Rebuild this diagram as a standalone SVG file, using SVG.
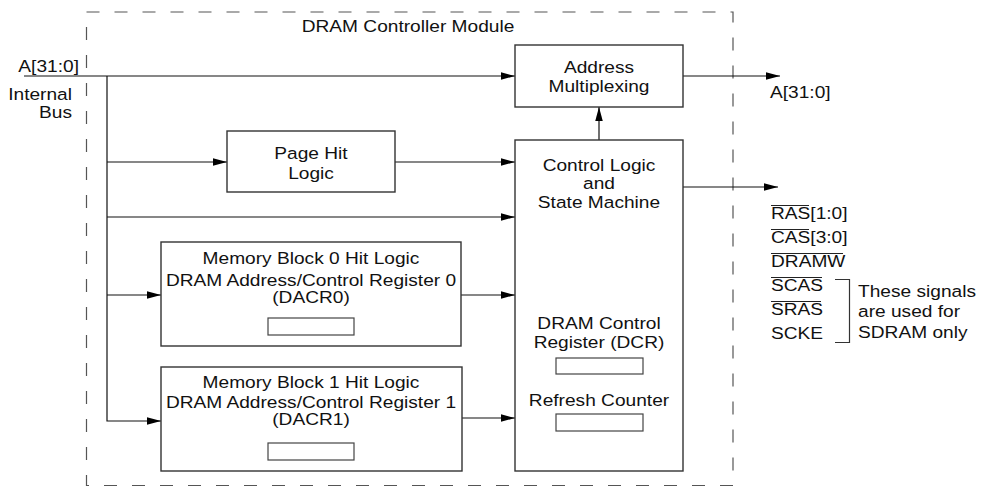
<svg xmlns="http://www.w3.org/2000/svg" width="984" height="487" viewBox="0 0 984 487">
<style>
.t{font-family:"Liberation Sans",Arial,Helvetica,sans-serif;font-size:16.5px;fill:#111}
.m{text-anchor:middle}
.e{text-anchor:end}
.box{fill:#fff;stroke:#333;stroke-width:1.4}
.reg{fill:#fff;stroke:#444;stroke-width:1.2}
.ln{fill:none;stroke:#111;stroke-width:1.2}
.ol{stroke:#222;stroke-width:1}
</style>
<defs>
<marker id="ah" markerUnits="userSpaceOnUse" markerWidth="14" markerHeight="8" refX="14" refY="3.75" orient="auto">
<path d="M0,0 L14,3.75 L0,7.5 z" fill="#000"/>
</marker>
</defs>
<rect id="module" x="86.5" y="12" width="646.5" height="473.5" fill="none" stroke="#555" stroke-width="1.2" stroke-dasharray="13 15"/>
<text class="t m" transform="translate(408 32) scale(1.16 1)">DRAM Controller Module</text>

<g id="connectors">
<line class="ln" x1="24" y1="76" x2="515" y2="76" marker-end="url(#ah)"/>
<polyline class="ln" points="107,76 107,421 161,421" marker-end="url(#ah)"/>
<line class="ln" x1="107" y1="162" x2="227" y2="162" marker-end="url(#ah)"/>
<line class="ln" x1="395" y1="162" x2="515" y2="162" marker-end="url(#ah)"/>
<line class="ln" x1="107" y1="217" x2="515" y2="217" marker-end="url(#ah)"/>
<line class="ln" x1="107" y1="295" x2="161" y2="295" marker-end="url(#ah)"/>
<line class="ln" x1="461" y1="295" x2="515" y2="295" marker-end="url(#ah)"/>
<line class="ln" x1="462" y1="418" x2="515" y2="418" marker-end="url(#ah)"/>
<line class="ln" x1="599" y1="140" x2="599" y2="107" marker-end="url(#ah)"/>
<line class="ln" x1="683" y1="76" x2="780" y2="76" marker-end="url(#ah)"/>
<line class="ln" x1="683" y1="187" x2="778" y2="187" marker-end="url(#ah)"/>
</g>

<g id="bus-in">
<text class="t e" transform="translate(79 72) scale(1.16 1)">A[31:0]</text>
<text class="t e" transform="translate(72 100) scale(1.16 1)">Internal</text>
<text class="t e" transform="translate(72 118) scale(1.16 1)">Bus</text>
</g>

<g id="addr-mux">
<rect class="box" x="515" y="45" width="168" height="62"/>
<text class="t m" transform="translate(599 73) scale(1.16 1)">Address</text>
<text class="t m" transform="translate(599 92) scale(1.16 1)">Multiplexing</text>
</g>

<g id="bus-out">
<text class="t" transform="translate(770 98) scale(1.16 1)">A[31:0]</text>
</g>

<g id="page-hit">
<rect class="box" x="227" y="131" width="168" height="61"/>
<text class="t m" transform="translate(311 159) scale(1.16 1)">Page Hit</text>
<text class="t m" transform="translate(311 179) scale(1.16 1)">Logic</text>
</g>

<g id="mem-block-0">
<rect class="box" x="161" y="242" width="300" height="104"/>
<text class="t m" transform="translate(311 264) scale(1.16 1)">Memory Block 0 Hit Logic</text>
<text class="t m" transform="translate(311 286) scale(1.16 1)">DRAM Address/Control Register 0</text>
<text class="t m" transform="translate(311 303) scale(1.16 1)">(DACR0)</text>
<rect class="reg" x="268" y="318" width="86" height="17"/>
</g>

<g id="mem-block-1">
<rect class="box" x="161" y="367" width="301" height="104"/>
<text class="t m" transform="translate(311 388) scale(1.16 1)">Memory Block 1 Hit Logic</text>
<text class="t m" transform="translate(311 408) scale(1.16 1)">DRAM Address/Control Register 1</text>
<text class="t m" transform="translate(311 425) scale(1.16 1)">(DACR1)</text>
<rect class="reg" x="268" y="443" width="86" height="17"/>
</g>

<g id="control-logic">
<rect class="box" x="515" y="140" width="168" height="331"/>
<text class="t m" transform="translate(599 171) scale(1.16 1)">Control Logic</text>
<text class="t m" transform="translate(599 189) scale(1.16 1)">and</text>
<text class="t m" transform="translate(599 208) scale(1.16 1)">State Machine</text>
<text class="t m" transform="translate(599 329) scale(1.16 1)">DRAM Control</text>
<text class="t m" transform="translate(599 348) scale(1.16 1)">Register (DCR)</text>
<rect class="reg" x="556" y="358" width="87" height="16"/>
<text class="t m" transform="translate(599 406) scale(1.16 1)">Refresh Counter</text>
<rect class="reg" x="556" y="414" width="87" height="17"/>
</g>

<g id="signals">
<text class="t" transform="translate(771 219) scale(1.16 1)">RAS[1:0]</text>
<line class="ol" x1="771" y1="205.5" x2="809" y2="205.5"/>
<text class="t" transform="translate(771 243) scale(1.16 1)">CAS[3:0]</text>
<line class="ol" x1="771" y1="229.5" x2="809" y2="229.5"/>
<text class="t" transform="translate(771 267) scale(1.16 1)">DRAMW</text>
<line class="ol" x1="771" y1="253.5" x2="843" y2="253.5"/>
<text class="t" transform="translate(771 291) scale(1.16 1)">SCAS</text>
<line class="ol" x1="771" y1="277.5" x2="822" y2="277.5"/>
<text class="t" transform="translate(771 315) scale(1.16 1)">SRAS</text>
<line class="ol" x1="771" y1="301.5" x2="821" y2="301.5"/>
<text class="t" transform="translate(771 339) scale(1.16 1)">SCKE</text>
</g>

<g id="sdram-note">
<path d="M835,279.5 H849.5 V342.5 H835" fill="none" stroke="#333" stroke-width="1.2"/>
<text class="t" transform="translate(858 297) scale(1.16 1)">These signals</text>
<text class="t" transform="translate(858 317) scale(1.16 1)">are used for</text>
<text class="t" transform="translate(858 338) scale(1.16 1)">SDRAM only</text>
</g>
</svg>
